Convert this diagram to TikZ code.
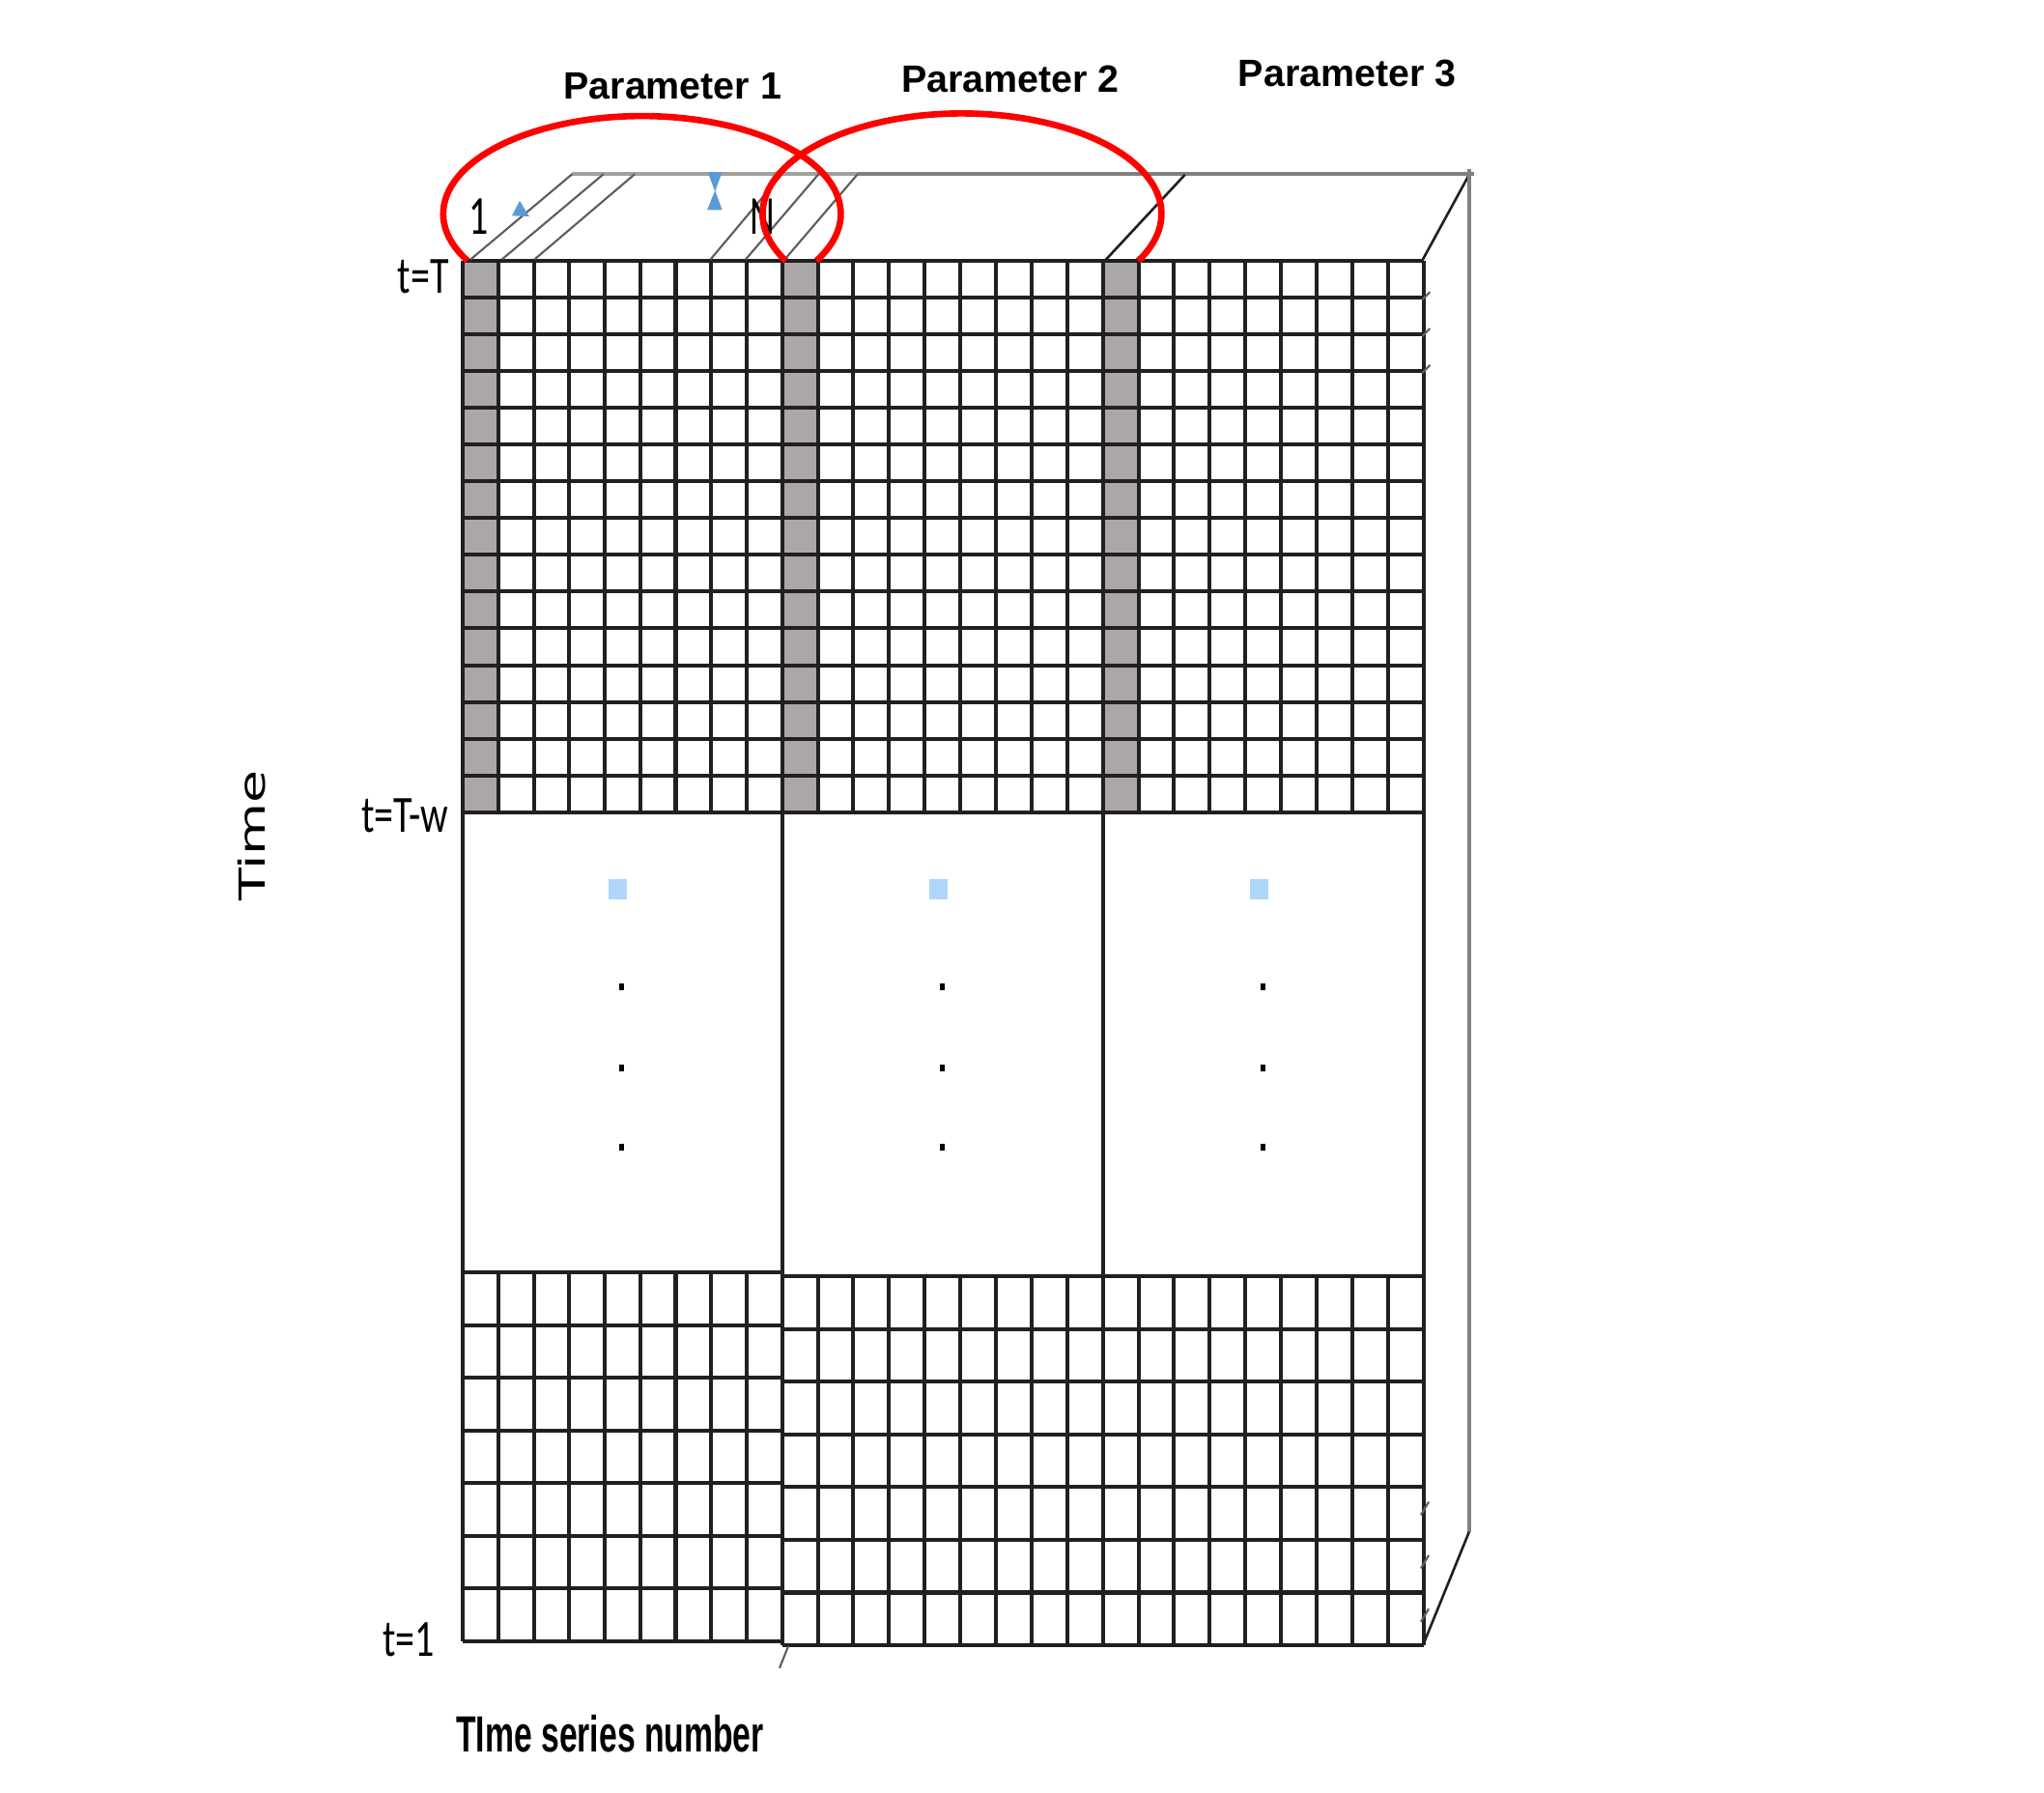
\documentclass[tikz,border=0pt]{standalone}
\usepackage{fontspec}
\setmainfont{Liberation Sans}
\newfontfamily\calibrifont{Carlito}
\newfontfamily\axisfont{DejaVu Sans}
\usepackage{tikz}
\definecolor{cellgray}{HTML}{ABA7A7}
\definecolor{gridline}{HTML}{202020}
\definecolor{hatchline}{HTML}{5E5E5E}
\definecolor{backline}{HTML}{A0A0A0}
\definecolor{sideline}{HTML}{808080}
\definecolor{ringred}{HTML}{FF0000}
\definecolor{markblue}{HTML}{5B9BD5}
\definecolor{dotblue}{HTML}{AED6FB}
\tikzset{
    gridstroke/.style={draw=gridline, line width=0.85pt},
    hatch/.style={draw=hatchline, line width=0.45pt},
    edgestroke/.style={draw=gridline, line width=0.55pt},
    ring/.style={draw=ringred, line width=1.4pt},
    paramlabel/.style={inner sep=0pt, font=\fontsize{8.3}{10}\selectfont\bfseries},
    timelabel/.style={inner sep=0pt, anchor=east},
}
\newcommand{\tlabel}[1]{\scalebox{0.74}[1]{\calibrifont\fontsize{11.4}{13}\selectfont #1}}

\begin{document}
\begin{tikzpicture}[x=0.01cm, y=-0.01cm]
    \useasboundingbox (0,0) rectangle (1568,1375);

    % three parameter blocks: left / right / top of lower grid / bottom
    \foreach \xl/\xr/\yb/\ye in {355/600/976/1259, 600/846/979/1262, 846/1092/979/1262} {
        \pgfmathsetmacro{\cw}{(\xr-\xl)/9}
        \pgfmathsetmacro{\rh}{(\ye-\yb)/7}
        % shaded first series
        \fill[cellgray] (\xl,200) rectangle ({\xl+\cw},623);
        % upper grid, t=T down to t=T-w
        \foreach \j in {0,...,15}
            \draw[gridstroke] (\xl,{200+\j*423/15}) -- (\xr,{200+\j*423/15});
        \foreach \i in {0,...,9}
            \draw[gridstroke] ({\xl+\i*\cw},200) -- ({\xl+\i*\cw},623);
        % skipped time steps
        \draw[gridstroke] (\xl,623) rectangle (\xr,\yb);
        % lower grid, down to t=1
        \foreach \j in {0,...,7}
            \draw[gridstroke] (\xl,{\yb+\j*\rh}) -- (\xr,{\yb+\j*\rh});
        \foreach \i in {0,...,9}
            \draw[gridstroke] ({\xl+\i*\cw},\yb) -- ({\xl+\i*\cw},\ye);
    }

    % ellipsis marks in the gap
    \foreach \xc in {474,720,966} {
        \fill[dotblue] ({\xc-7},674) rectangle ({\xc+7},690);
        \foreach \yc in {757,819,880}
            \fill[black] ({\xc+1},{\yc-2.5}) rectangle ({\xc+5},{\yc+2.5});
    }

    % top face
    \draw[backline, line width=0.9pt] (439,133.5) -- (658,133.5);
    \draw[sideline, line width=0.9pt] (658,133.5) -- (1131,133.5);
    \foreach \xa/\xb in {361/439, 385/463, 410/487, 545/600, 572/628, 602/658}
        \draw[hatch] (\xa,199) -- (\xb,133.5);
    \draw[edgestroke] (848.5,199) -- (909,134);
    \draw[edgestroke] (1091.5,199) -- (1127,134);
    % right face
    \draw[sideline, line width=0.9pt] (1127,130) -- (1127,1175);
    \draw[edgestroke] (1092,1261) -- (1127,1175);
    \draw[hatch] (604.7,1262.7) -- (598,1279.5);
    \foreach \yt in {228,256,284}
        \draw[hatch] (1091,{\yt+2}) -- (1097,{\yt-4});
    \foreach \yt in {1158,1199,1240}
        \draw[hatch] (1090,{\yt+4}) -- (1096,{\yt-6});

    % series markers on the top face
    \fill[markblue] (398.7,154) -- (392.7,165.5) -- (406,166) -- cycle;
    \fill[markblue] (543,132) -- (554,132) -- (548.5,147) -- cycle;
    \fill[markblue] (548.5,146) -- (554,161) -- (542.5,161) -- cycle;
    \node[inner sep=0pt] (first) at (367,166) {\scalebox{0.7}[1]{\calibrifont\fontsize{12}{14}\selectfont 1}};
    \node[inner sep=0pt] (last) at (585,166) {\scalebox{0.7}[1]{\calibrifont\fontsize{12}{14}\selectfont N}};

    % windows of parameters 1 and 2
    \draw[ring] (492.5,164) ++(151.3:152.5 and 75) arc[start angle=151.3, end angle=388.7, x radius=152.5, y radius=75];
    \draw[ring] (738,164) ++(152.1:153 and 77) arc[start angle=152.1, end angle=387.9, x radius=153, y radius=77];

    \node[paramlabel] (param1) at (516,66) {Parameter 1};
    \node[paramlabel] (param2) at (775,61) {Parameter 2};
    \node[paramlabel] (param3) at (1033.5,56) {Parameter 3};

    % time axis
    \node[timelabel] (tlast) at (345,212) {\tlabel{t=T}};
    \node[timelabel] (twin) at (345,626) {\tlabel{t=T-w}};
    \node[timelabel] (tfirst) at (334,1258) {\tlabel{t=1}};
    \node[rotate=90, inner sep=0pt] (timeaxis) at (193,641) {\scalebox{1}[0.67]{\axisfont\fontsize{11.7}{14}\selectfont Time}};
    \node[inner sep=0pt] (seriesaxis) at (468,1330) {\scalebox{0.64}[1]{\fontsize{11.1}{13}\selectfont\bfseries TIme series number}};
\end{tikzpicture}
\end{document}
